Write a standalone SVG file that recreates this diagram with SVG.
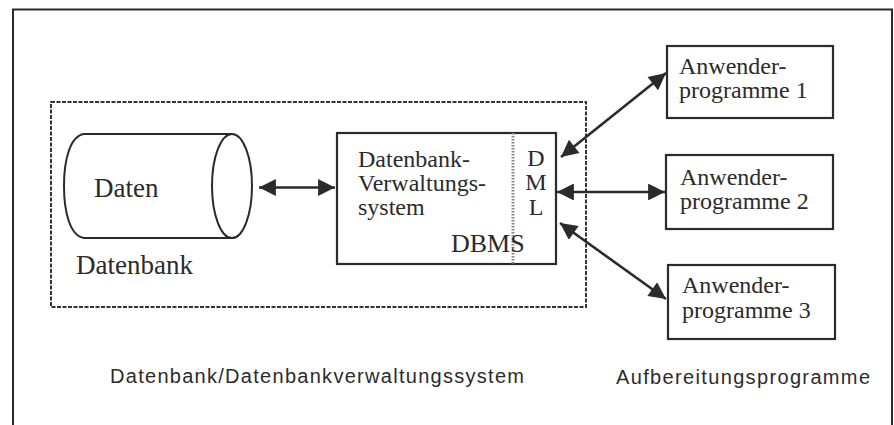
<svg xmlns="http://www.w3.org/2000/svg" width="894" height="425" viewBox="0 0 894 425">
<defs>
<style>
.ln{fill:none;stroke:#2b2b2b;stroke-width:2}
.box{fill:#fff;stroke:#2b2b2b;stroke-width:2.2}
.dash{fill:none;stroke:#333;stroke-width:2;stroke-dasharray:4,1.5}
.serif{font-family:"Liberation Serif","Times New Roman",serif;fill:#2b2b2b}
.sans{font-family:"Liberation Sans",Arial,sans-serif;fill:#2b2b2b;font-size:20px}
.arr{stroke:#2b2b2b;stroke-width:2.6;fill:none;marker-start:url(#ah);marker-end:url(#ah)}
</style>
<marker id="ah" viewBox="0 0 10 10" refX="10" refY="5" markerWidth="8" markerHeight="6.5" orient="auto-start-reverse" markerUnits="strokeWidth">
<path d="M0,0 L10,5 L0,10 z" fill="#2b2b2b"/>
</marker>
</defs>
<rect width="894" height="425" fill="#fff"/>
<path class="ln" d="M13,430 L13,9.5 L892,9.5 L892,430"/>
<rect class="dash" x="51" y="102" width="535" height="205"/>
<g id="daten">
<path class="ln" d="M232,134 L84,134 C70,136 64,160 64,186 C64,212 70,236 84,238 L232,238"/>
<ellipse class="ln" cx="232" cy="186" rx="20" ry="52"/>
<text class="serif" x="94" y="197" font-size="27">Daten</text>
</g>
<g id="datenbank-label">
<text class="serif" x="76" y="274" font-size="27">Datenbank</text>
</g>
<g id="dbms">
<rect class="box" x="337" y="133" width="219" height="131"/>
<line x1="513" y1="133" x2="513" y2="264" stroke="#888" stroke-width="3" stroke-dasharray="1.5,1.5"/>
<text class="serif" font-size="24"><tspan x="358" y="167">Datenbank-</tspan><tspan x="358" y="191">Verwaltungs-</tspan><tspan x="358" y="215">system</tspan></text>
<text class="serif" x="451" y="252" font-size="26">DBMS</text>
<text class="serif" font-size="24" text-anchor="middle"><tspan x="536" y="166">D</tspan><tspan x="536" y="190">M</tspan><tspan x="536" y="215">L</tspan></text>
</g>
<g id="app1">
<rect class="box" x="667" y="46" width="166" height="72"/>
<text class="serif" font-size="24"><tspan x="679" y="74">Anwender-</tspan><tspan x="679" y="98">programme 1</tspan></text>
</g>
<g id="app2">
<rect class="box" x="666" y="155" width="167" height="74"/>
<text class="serif" font-size="24"><tspan x="680" y="185">Anwender-</tspan><tspan x="680" y="209">programme 2</tspan></text>
</g>
<g id="app3">
<rect class="box" x="668" y="265" width="167" height="74"/>
<text class="serif" font-size="24"><tspan x="682" y="293">Anwender-</tspan><tspan x="682" y="318">programme 3</tspan></text>
</g>
<g id="connectors">
<line class="arr" x1="259" y1="187.5" x2="335" y2="187.5"/>
<line class="arr" x1="561" y1="157" x2="666" y2="73"/>
<line class="arr" x1="557" y1="192" x2="665" y2="192"/>
<line class="arr" x1="560" y1="223" x2="666" y2="299"/>
</g>
<g id="captions">
<text class="sans" x="110" y="383" textLength="414" lengthAdjust="spacing">Datenbank/Datenbankverwaltungssystem</text>
<text class="sans" x="616" y="384" textLength="254" lengthAdjust="spacing">Aufbereitungsprogramme</text>
</g>
</svg>
